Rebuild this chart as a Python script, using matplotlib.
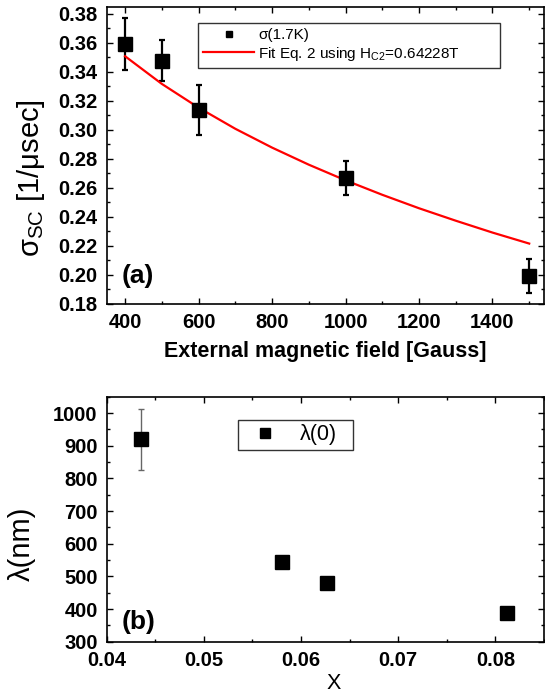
import matplotlib
matplotlib.use("Agg")
import matplotlib.pyplot as plt
from matplotlib.lines import Line2D
from matplotlib.ticker import MultipleLocator

plt.rcParams["font.family"] = ["Liberation Sans", "DejaVu Sans"]
plt.rcParams["mathtext.fontset"] = "custom"
plt.rcParams["mathtext.rm"] = "Liberation Sans"
plt.rcParams["mathtext.it"] = "Liberation Sans"

# painel (a): sigma_sc vs campo externo
campo = [400, 500, 600, 1000, 1500]
sigma = [0.3592, 0.3478, 0.3137, 0.2666, 0.1990]
sigma_err = [0.0180, 0.0143, 0.0170, 0.0119, 0.0120]

# curva do ajuste (Eq. 2, Hc2 = 0.64228 T)
campo_fit = [400, 500, 600, 700, 800, 900, 1000, 1100, 1200, 1300, 1400, 1500]
sigma_fit = [0.3508, 0.3317, 0.3153, 0.3007, 0.2877, 0.2759,
             0.2651, 0.2551, 0.2458, 0.2372, 0.2290, 0.2214]

# painel (b): lambda(0) vs x
x_dop = [0.0435, 0.0580, 0.0627, 0.0812]
lamb = [919, 544, 481, 388]
lamb_err = [94, 0, 0, 0]

fig = plt.figure(figsize=(5.45, 6.95), dpi=100)
ax1 = fig.add_axes([0.1958, 0.5633, 0.8022, 0.4266])
ax2 = fig.add_axes([0.1958, 0.0767, 0.8022, 0.3525])


def estilo_eixo(ax):
    for s in ax.spines.values():
        s.set_linewidth(1.2)
    ax.tick_params(which="both", direction="in", top=True, right=True,
                   width=1.0, labelsize=14.5, pad=6.5)
    ax.tick_params(which="major", length=4)
    ax.tick_params(which="minor", length=2.5)
    for lb in ax.get_xticklabels() + ax.get_yticklabels():
        lb.set_fontweight("bold")


ax1.errorbar(campo, sigma, yerr=sigma_err, fmt="s", color="black",
             markersize=9.5, elinewidth=1.6, capsize=2.5, capthick=1.6)
ax1.plot(campo_fit, sigma_fit, color="red", linewidth=1.6)
ax1.set_xlim(350, 1540)
ax1.set_ylim(0.18, 0.3848)
ax1.xaxis.set_major_locator(MultipleLocator(200))
ax1.xaxis.set_minor_locator(MultipleLocator(100))
ax1.yaxis.set_major_locator(MultipleLocator(0.02))
ax1.yaxis.set_minor_locator(MultipleLocator(0.01))
ax1.yaxis.set_major_formatter(plt.FuncFormatter(lambda v, p: f"{v:.2f}"))
estilo_eixo(ax1)
ax1.set_xlabel("External magnetic field [Gauss]", fontsize=15.5,
               fontweight="bold")
ax1.xaxis.set_label_coords(0.5, -0.128)
ax1.set_ylabel(r"σ$_{\mathrm{SC}}$ [1/μsec]", fontsize=21)
ax1.yaxis.set_label_coords(-0.137, 0.423)
ax1.text(0.035, 0.093, "(a)", transform=ax1.transAxes, fontsize=19,
         fontweight="bold", va="center")

handles1 = [
    Line2D([], [], marker="s", color="black", linestyle="none",
           markersize=4.5),
    Line2D([], [], color="red", linewidth=1.6),
]
labels1 = ["σ(1.7K)", r"Fit Eq. 2 using H$_{\mathrm{C2}}$=0.64228T"]
leg1 = ax1.legend(handles1, labels1, loc="upper left",
                  bbox_to_anchor=(0.2088, 0.946, 0.6906, 0.0),
                  mode="expand", fontsize=11, frameon=True, fancybox=False,
                  edgecolor="black", handlelength=3.3, handletextpad=0.3,
                  borderpad=0.35, labelspacing=0.15, borderaxespad=0)
leg1.get_frame().set_linewidth(1.0)

ax2.errorbar(x_dop, lamb, yerr=lamb_err, fmt="s", color="black",
             ecolor="#666666", markersize=9.5, elinewidth=1.0, capsize=2.5,
             capthick=1.0)
ax2.set_xlim(0.04, 0.085)
ax2.set_ylim(300, 1050)
ax2.xaxis.set_major_locator(MultipleLocator(0.01))
ax2.xaxis.set_minor_locator(MultipleLocator(0.005))
ax2.yaxis.set_major_locator(MultipleLocator(100))
ax2.yaxis.set_minor_locator(MultipleLocator(50))
ax2.xaxis.set_major_formatter(plt.FuncFormatter(lambda v, p: f"{v:.2f}"))
estilo_eixo(ax2)
ax2.set_xlabel("X", fontsize=15.5)
ax2.xaxis.set_label_coords(0.52, -0.128)
ax2.set_ylabel("λ(nm)", fontsize=21)
ax2.yaxis.set_label_coords(-0.162, 0.399)
ax2.text(0.035, 0.080, "(b)", transform=ax2.transAxes, fontsize=19,
         fontweight="bold", va="center")

handles2 = [Line2D([], [], marker="s", color="black", linestyle="none",
                   markersize=7)]
leg2 = ax2.legend(handles2, ["λ(0)"], loc="upper left",
                  bbox_to_anchor=(0.300, 0.905, 0.263, 0.0), mode="expand",
                  fontsize=15.5, frameon=True, fancybox=False,
                  edgecolor="black", handlelength=2.1, handletextpad=0.6,
                  borderpad=0.2, borderaxespad=0)
leg2.get_frame().set_linewidth(1.0)

fig.savefig("out.png", dpi=100)
